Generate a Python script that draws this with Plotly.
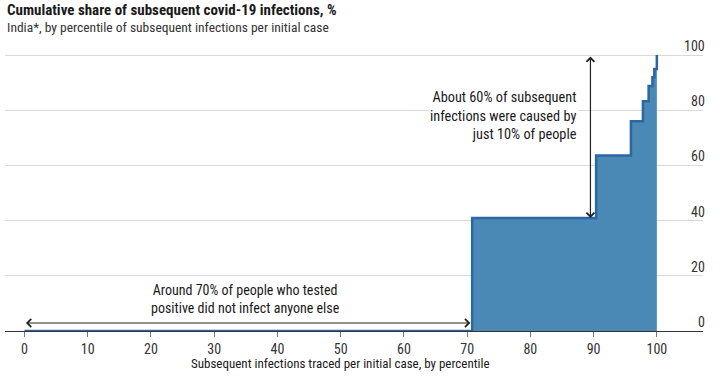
import plotly.graph_objects as go

# Data
percentile = [0, 70.8, 90.4, 95.9, 97.8, 98.7, 99.3, 99.6, 100]
cum_share = [0, 41.0, 63.6, 76.0, 83.3, 88.8, 92.0, 95.0, 100]

x_ticks = [0, 10, 20, 30, 40, 50, 60, 70, 80, 90, 100]
y_ticks = [0, 20, 40, 60, 80, 100]

FONT = "Roboto Condensed, Lato, sans-serif"
TXT = "#1a1a1a"

fig = go.Figure()
fig.add_trace(go.Scatter(
    x=percentile, y=cum_share, mode="lines", line_shape="hv",
    fill="tozeroy", fillcolor="#4a88b6",
    line=dict(color="#2b67a3", width=2.5),
    hoverinfo="skip", showlegend=False,
))

fig.update_layout(
    width=720, height=380,
    margin=dict(l=5, r=17, t=54, b=49, autoexpand=False),
    paper_bgcolor="white", plot_bgcolor="white",
    font=dict(family=FONT, size=13, color=TXT),
    xaxis=dict(
        range=[-3.08, 107.3], tickvals=x_ticks, showgrid=False, zeroline=False,
        showline=True, linecolor="#333333", linewidth=1, automargin=False,
        ticks="outside", ticklen=5, tickcolor="#777777", tickwidth=1,
        tickfont=dict(size=14, color="#333333"),
    ),
    yaxis=dict(
        range=[0, 100.4], tickvals=y_ticks, side="right", automargin=False,
        showticklabels=False, showgrid=True, gridcolor="#d9d9d9",
        gridwidth=1, zeroline=False, showline=False, ticks="",
    ),
)

# y tick labels sitting above gridlines at the right edge
for v in y_ticks:
    fig.add_annotation(xref="paper", yref="y", x=1, y=v, xanchor="right", yanchor="bottom",
                       xshift=4, yshift=-1, showarrow=False, text=str(v),
                       font=dict(size=14, color="#333333"))

fig.add_annotation(xref="paper", yref="paper", x=-0.0, y=1.0, yshift=55,
                   xanchor="left", yanchor="top", showarrow=False,
                   text="<b>Cumulative share of subsequent covid-19 infections, %</b>",
                   font=dict(size=15, color=TXT))
fig.add_annotation(xref="paper", yref="paper", x=-0.0, y=1.0, yshift=37,
                   xanchor="left", yanchor="top", showarrow=False,
                   text="India*, by percentile of subsequent infections per initial case",
                   font=dict(size=13.5, color="#333333"))
fig.add_annotation(xref="x", yref="paper", x=50, y=0, yshift=-23,
                   xanchor="center", yanchor="top", showarrow=False,
                   text="Subsequent infections traced per initial case, by percentile",
                   font=dict(size=13, color=TXT))

# Vertical double arrow
fig.add_annotation(x=89.5, y=41, ax=89.5, ay=100, xref="x", yref="y", axref="x", ayref="y",
                   showarrow=True, arrowhead=4, startarrowhead=4, arrowside="end+start",
                   arrowwidth=1.2, arrowsize=1.3, startarrowsize=1.3, arrowcolor="#222222", text="")
fig.add_annotation(x=87.7, y=78, xref="x", yref="y", xanchor="right", yanchor="middle",
                   showarrow=False, align="right", bgcolor="white",
                   text="About 60% of subsequent<br>infections were caused by<br>just 10% of people",
                   font=dict(size=14.3, color=TXT))

# Horizontal double arrow
fig.add_annotation(x=70.5, y=2.9, ax=0, ay=2.9, xref="x", yref="y", axref="x", ayref="y",
                   showarrow=True, arrowhead=4, startarrowhead=4, arrowside="end+start",
                   arrowwidth=1.2, arrowsize=1.3, startarrowsize=1.3, arrowcolor="#222222", text="")
fig.add_annotation(x=35, y=11.5, xref="x", yref="y", xanchor="center", yanchor="middle",
                   showarrow=False, align="center", bgcolor="white",
                   text="Around 70% of people who tested<br>positive did not infect anyone else",
                   font=dict(size=14, color=TXT))

fig.write_html("out.html", config={"displayModeBar": False},
               post_script="document.body.style.margin='0px';")
